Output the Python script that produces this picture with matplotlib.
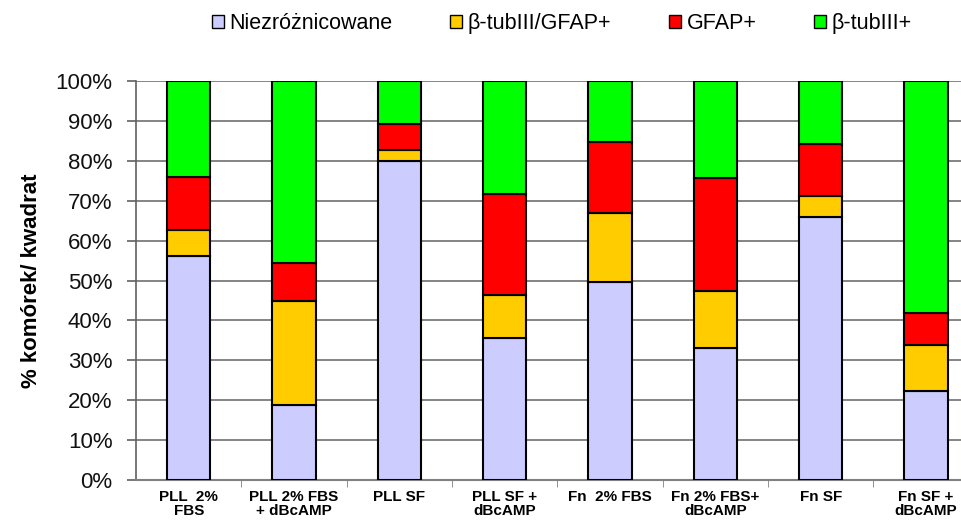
import numpy as np
import matplotlib
matplotlib.use("Agg")
import matplotlib.pyplot as plt
from matplotlib.patches import Patch

plt.rcParams['font.family'] = ['Liberation Sans', 'DejaVu Sans']

groups = ["PLL  2%\nFBS", "PLL 2% FBS\n+ dBcAMP", "PLL SF", "PLL SF +\ndBcAMP",
          "Fn  2% FBS", "Fn 2% FBS+\ndBcAMP", "Fn SF", "Fn SF +\ndBcAMP"]
series = ["Niezróżnicowane", "β-tubIII/GFAP+", "GFAP+", "β-tubIII+"]
colors = ["#CCCCFF", "#FFCC00", "#FF0000", "#00FF00"]

niezroznicowane = [56.1, 18.8, 80.0, 35.5, 49.7, 33.0, 66.0, 22.4]
tub_gfap = [6.6, 26.1, 2.7, 10.9, 17.3, 14.4, 5.2, 11.4]
gfap = [13.2, 9.4, 6.5, 25.3, 17.8, 28.2, 13.0, 8.0]
tub = [24.1, 45.7, 10.8, 28.3, 15.2, 24.4, 15.8, 58.2]

fig = plt.figure(figsize=(9.62, 5.21), dpi=100)
ax = fig.add_axes([0.1414, 0.0787, 0.876, 0.7658])

x = np.arange(len(groups))
bottom = np.zeros(len(groups))
for vals, name, col in zip([niezroznicowane, tub_gfap, gfap, tub], series, colors):
    ax.bar(x, vals, 0.41, bottom=bottom, color=col, edgecolor="black",
           linewidth=1.5, label=name, zorder=3)
    bottom += np.array(vals)

ax.set_xlim(-0.5, 7.5)
ax.set_ylim(0, 100)
ax.set_yticks(np.arange(0, 101, 10))
ax.set_yticklabels([f"{v}%" for v in range(0, 101, 10)], fontsize=16, color="#111111")
ax.yaxis.grid(True, color="#707070", linewidth=1.2, zorder=0)
ax.tick_params(axis="y", direction="out", length=6.5, width=1.2, color="#606060", pad=10.5)

ax.set_xticks(x)
ax.set_xticklabels(groups, fontsize=11, fontweight="bold", linespacing=1.05)
ax.tick_params(axis="x", which="major", length=0, pad=7)
ax.set_xticks(np.arange(0.5, 7.5, 1), minor=True)
ax.tick_params(axis="x", which="minor", direction="out", length=5, color="#808080")

for side in ["top", "right"]:
    ax.spines[side].set_visible(False)
ax.spines["left"].set_color("#606060")
ax.spines["bottom"].set_color("#808080")
ax.spines["left"].set_linewidth(1.2)
ax.spines["bottom"].set_linewidth(1.5)

ax.set_ylabel("% komórek/ kwadrat", fontsize=16, fontweight="bold", labelpad=10)

handles = [Patch(facecolor=c, edgecolor="black", linewidth=1.0) for c in colors]
fig.legend(handles, series, ncol=4, loc="center", bbox_to_anchor=(0.584, 0.955),
           frameon=False, fontsize=15.5, handlelength=0.55, handleheight=0.55,
           handletextpad=0.25, columnspacing=2.7)

fig.savefig("out.png", dpi=100)
